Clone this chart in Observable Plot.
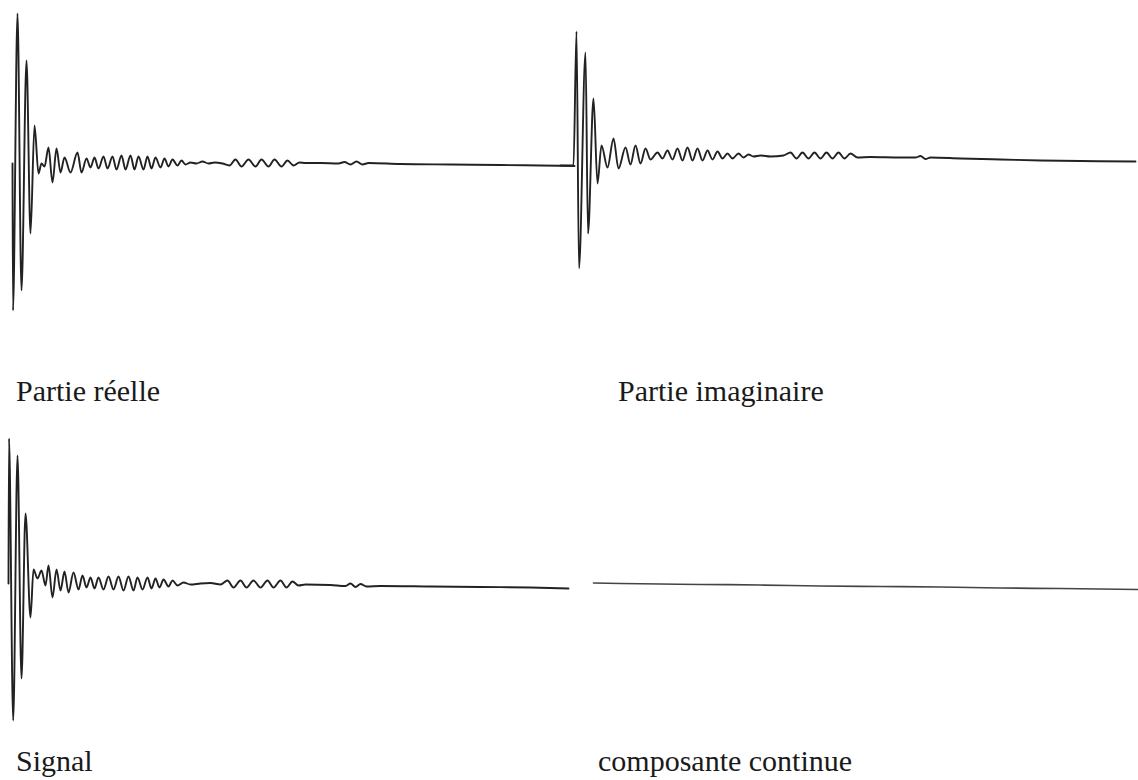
<!DOCTYPE html>
<html>
<head>
<meta charset="utf-8">
<script src="https://cdn.jsdelivr.net/npm/d3@7"></script>
<script src="https://cdn.jsdelivr.net/npm/@observablehq/plot@0.6"></script>
<style>
  html, body { margin: 0; padding: 0; background: #fff; }
  #wrap { position: relative; width: 1138px; height: 780px; overflow: hidden; background: #fff; }
  .panel { position: absolute; }
  .panel svg { overflow: visible; background: transparent; }
  .lbl { position: absolute; font-family: "Liberation Serif", "Times New Roman", "DejaVu Serif", serif; font-size: 30px; line-height: 30px; color: #1a1a1a; white-space: nowrap; }
</style>
</head>
<body>
<div id="wrap"></div>
<script>
// Panel titles
const labels = ["Partie réelle", "Partie imaginaire", "Signal", "composante continue"];

// Partie réelle : time (samples) and amplitude
const tReal = [12,12.5,17,21,26,30,34,38,41,44,48,52,56,60,64,70,77,81,86,90,94,98,103,107,112,116,121,125,130,134,138,143,147,151,155,160,164,168,172,177,181,185,190,196,202,208,214,222,229,235,241,248,255,261,268,274,281,287,293,299,305,320,338,344,350,356,362,368,400,450,500,540,574];
const vReal = [0,-147,150,-127,103,-70,38,-10,0,-3,16,-19,15,-9,6,-9,11,-9,5,-4,6,-5,7,-5,7,-6,8,-6,8,-6,7,-6,7,-5,6,-4,5,-3,4,-2,3,-1,1,0,2,0,1,0,-2,4,-3,4,-3,4,-3,4,-3,3,-2,1,0.5,0.5,0,1.5,-1,2,-1,0.5,-0.5,-1,-1.5,-2,-2.5];

// Partie imaginaire
const tImag = [0,13,16,18.5,25,27.5,33,37,41,47,53,58,65,70,75,80,85,90,97,102,107,112,117,122,127,132,137,142,147,152,157,162,167,172,178,183,188,193,200,210,223,230,236,242,248,254,260,266,272,278,284,290,297,310,340,355,360,365,370,400,440,480,520,575];
const vImag = [-2,-2,132,-105,111,-70,65,-20,18,-4,25,-5,16,-1,18,0,15,4,11,5,13,4,15,3,16,3,15,3,13,4,12,5,10,5,10,6,9,7,8,7,8,11,5,11,5,11,5,11,5,11,5,10,6,6.5,6,6,7.5,4.5,6,5,4,3,2.5,2];

// Signal
const tSig = [8,8.5,12.7,17,21,25,30,33,37,41,45,48,52,56,60,64,68,73,78,82,86,90,94,98,103,108,113,118,123,128,133,137,142,147,151,155,159,163,168,172,177,183,190,200,210,220,227,233,240,246,253,260,267,273,280,286,292,298,305,330,345,350,355,360,366,380,430,480,530,568];
const vSig = [0,145,-137,128,-95,70,-34,14,5,13,-2,18,-14,14,-7,12,-9,11,-6,8,-4,6,-5,6,-6,7,-6,7,-7,7,-7,6,-6,6,-5,5,-4,4,-3,3,-2,1,-1,0,0.5,-1,3,-4,3,-4,3,-4,3,-4,3,-4,2,-2,-1,-1.5,-2.5,0,-3.5,-0.5,-3,-2.5,-3,-3.5,-4,-5];

// composante continue
const tDC = [33,60,100,140,200,260,320,380,440,500,578];
const vDC = [0.5,0,-0.5,-1,-1.5,-2.5,-3,-3.5,-4.5,-5,-6];

const panels = [
  {t: tReal, v: vReal, left: 0,   top: 0,   stroke: "#222", sw: 1.9},
  {t: tImag, v: vImag, left: 560, top: 0,   stroke: "#222", sw: 1.9},
  {t: tSig,  v: vSig,  left: 0,   top: 420, stroke: "#222", sw: 1.9},
  {t: tDC,   v: vDC,   left: 560, top: 420, stroke: "#444", sw: 1.7}
];

const wrap = document.getElementById("wrap");
panels.forEach(p => {
  const data = p.t.map((t, i) => ({t, v: p.v[i]}));
  const chart = Plot.plot({
    width: 578, height: 330, margin: 0,
    style: {background: "transparent"},
    x: {domain: [0, 578], axis: null},
    y: {domain: [-167, 163], axis: null},
    marks: [
      Plot.line(data, {x: "t", y: "v", curve: "monotone-x", stroke: p.stroke, strokeWidth: p.sw, strokeLinejoin: "round"})
    ]
  });
  const div = document.createElement("div");
  div.className = "panel";
  div.style.left = p.left + "px";
  div.style.top = p.top + "px";
  div.appendChild(chart);
  wrap.appendChild(div);
});

const labelPos = [[16, 376], [618, 376], [16, 746], [598, 746]];
labels.forEach((txt, i) => {
  const d = document.createElement("div");
  d.className = "lbl";
  d.textContent = txt;
  d.style.left = labelPos[i][0] + "px";
  d.style.top = labelPos[i][1] + "px";
  wrap.appendChild(d);
});
</script>
</body>
</html>
